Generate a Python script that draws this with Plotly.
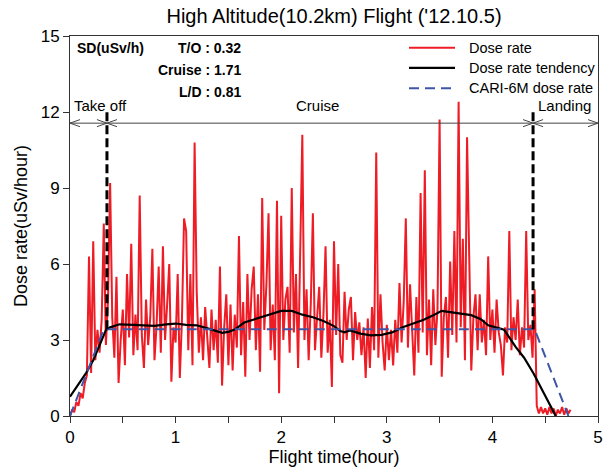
import plotly.graph_objects as go

# ---------------- data ----------------
dt = 0.02  # hours between dose-rate samples
dose_rate = [
    0.0, 0.25, 0.15, 0.55, 0.4, 0.9, 0.7, 1.3, 1.6, 6.3,
    1.7, 6.9, 2.2, 3.4, 2.5, 3.8, 7.6, 2.8, 4.6, 9.2,
    3.9, 2.3, 5.5, 1.3, 3.0, 4.2, 2.0, 5.6, 3.1, 6.8,
    2.4, 4.0, 2.6, 8.7, 3.2, 1.9, 4.6, 2.8, 3.9, 6.6,
    2.2, 3.6, 5.9, 2.5, 6.7, 3.0, 4.4, 6.0, 1.35, 3.5,
    2.9, 5.6, 1.5, 3.8, 7.8, 7.3, 2.6, 5.6, 2.0, 10.8,
    4.9, 2.5, 3.9, 2.2, 4.3, 3.0, 1.9, 4.2, 2.6, 3.8,
    2.1, 5.9, 1.2, 3.5, 4.8, 2.0, 4.4, 1.8, 4.0, 2.7,
    7.1, 2.4, 4.5, 1.55, 5.6, 3.0, 5.0, 5.9, 2.6, 4.8,
    1.75, 8.6, 3.4, 5.2, 8.0, 2.6, 4.4, 2.2, 8.5, 0.9,
    7.9, 3.0, 4.6, 5.1, 2.5, 9.0, 3.3, 5.6, 1.9, 6.5,
    11.1, 3.0, 5.0, 2.2, 4.4, 8.0, 2.6, 3.9, 5.1, 2.3,
    4.0, 6.7, 2.5, 3.8, 1.15, 6.9, 3.2, 6.0, 2.4, 2.1,
    4.9, 3.0, 4.2, 4.7, 2.2, 4.1, 3.0, 3.7, 2.4, 3.5,
    1.5, 3.85, 1.9, 4.3, 2.6, 10.4, 2.3, 4.8, 2.9, 1.8,
    3.6, 2.2, 3.4, 2.0, 3.8, 2.5, 5.25, 2.9, 4.5, 7.8,
    2.7, 5.2, 3.1, 1.6, 4.7, 2.5, 8.8, 3.3, 9.7, 2.4,
    4.6, 2.0, 5.0, 2.8, 4.2, 11.7, 1.55, 3.9, 4.7, 2.3,
    6.1, 3.2, 7.3, 2.9, 12.4, 3.5, 7.0, 2.2, 11.0, 6.8,
    1.8, 3.9, 4.8, 2.6, 4.8, 2.9, 3.8, 2.4, 6.3, 3.0,
    4.2, 2.5, 4.6, 3.3, 2.8, 1.6, 3.5, 2.9, 7.3, 2.6,
    3.9, 3.0, 4.6, 2.4, 3.5, 2.7, 7.3, 3.0, 3.6, 2.3,
    5.0, 0.4, 0.1, 0.35, 0.1, 0.3, 0.05, 0.35, 0.1, 0.3,
    0.0, 0.25, 0.1, 0.35, 0.05, 0.3, 0.1, 0.25,
]
time_h = [round(i * dt, 2) for i in range(len(dose_rate))]

tend_t = [0.00, 0.05, 0.10, 0.15, 0.22, 0.28, 0.34, 0.38, 0.47, 0.60, 0.70, 0.80,
          0.91, 1.00, 1.10, 1.20, 1.31, 1.44, 1.50, 1.56, 1.65, 1.77, 1.90, 2.00,
          2.10, 2.20, 2.30, 2.40, 2.50, 2.56, 2.60, 2.65, 2.75, 2.85, 2.95, 3.05,
          3.15, 3.25, 3.35, 3.45, 3.52, 3.60, 3.70, 3.80, 3.89, 3.96, 4.05, 4.11,
          4.22, 4.30, 4.39, 4.50, 4.60]
tend_v = [0.76, 1.05, 1.35, 1.68, 2.20, 2.80, 3.39, 3.50, 3.62, 3.60, 3.58, 3.56,
          3.62, 3.65, 3.60, 3.58, 3.45, 3.28, 3.32, 3.41, 3.69, 3.85, 4.00, 4.15,
          4.15, 4.00, 3.90, 3.75, 3.55, 3.35, 3.30, 3.38, 3.25, 3.18, 3.20, 3.30,
          3.50, 3.65, 3.80, 4.00, 4.15, 4.10, 4.05, 3.98, 3.82, 3.58, 3.48, 3.41,
          2.73, 2.30, 1.68, 0.80, 0.00]

cari_t = [0.0, 0.32, 4.40, 4.72]
cari_v = [0.0, 3.42, 3.42, 0.0]

phase_bounds = [0.35, 4.385]          # take-off / landing boundaries (hours)
phase_names = ["Take off", "Cruise", "Landing"]
sd_header = "SD(uSv/h)"
sd_labels = ["T/O : 0.32", "Cruise : 1.71", "L/D : 0.81"]
series_names = ["Dose rate", "Dose rate tendency", "CARI-6M dose rate"]

# ---------------- styling ----------------
FONT = "Liberation Sans, Arial, sans-serif"
RED = "#ee1c25"
BLUE = "#3f55a5"
AXC = "#333333"
W, H = 608, 467
ML, MR, MT, MB = 70, 10, 36, 51
PW, PH = W - ML - MR, H - MT - MB

X_MAX, Y_MAX = 5, 15
ARROW_Y = 11.56
CHEV_W, CHEV_H = 0.095, 0.14
BOUND_TOP, BOUND_BOTTOM = 12.05, 3.42

styles = [dict(color=RED, width=2), dict(color="black", width=2.2),
          dict(color=BLUE, width=2, dash="10px,6px")]

fig = go.Figure()
fig.add_trace(go.Scatter(x=time_h, y=dose_rate, mode="lines", name=series_names[0],
                         line=styles[0], showlegend=False))
fig.add_trace(go.Scatter(x=tend_t, y=tend_v, mode="lines", name=series_names[1],
                         line=styles[1], showlegend=False))
fig.add_trace(go.Scatter(x=cari_t, y=cari_v, mode="lines", name=series_names[2],
                         line=styles[2], showlegend=False))

shapes = []
shapes.append(dict(type="line", xref="x", yref="y", x0=0, x1=X_MAX, y0=ARROW_Y, y1=ARROW_Y,
                   line=dict(color="#444", width=1)))


def chevron(xtip, direction):
    xb = xtip - direction * CHEV_W
    return dict(type="path", xref="x", yref="y",
                path=f"M{xb},{ARROW_Y + CHEV_H} L{xtip},{ARROW_Y} L{xb},{ARROW_Y - CHEV_H}",
                line=dict(color="#444", width=1))


shapes.append(chevron(0, -1))
for b in phase_bounds:
    shapes.append(chevron(b, 1))
    shapes.append(chevron(b, -1))
shapes.append(chevron(X_MAX, 1))
for b in phase_bounds:
    shapes.append(dict(type="line", xref="x", yref="y", x0=b, x1=b, y0=BOUND_BOTTOM, y1=BOUND_TOP,
                       line=dict(color="black", width=3, dash="9px,4px")))

annotations = []
lab_y = 12.25
annotations.append(dict(x=0.02, y=lab_y, xref="x", yref="y", text=phase_names[0], showarrow=False,
                        xanchor="left", yanchor="middle", font=dict(size=15, color="black")))
annotations.append(dict(x=(phase_bounds[0] + phase_bounds[1]) / 2 - 0.02, y=lab_y, xref="x", yref="y",
                        text=phase_names[1], showarrow=False, xanchor="center", yanchor="middle",
                        font=dict(size=15, color="black")))
annotations.append(dict(x=4.95, y=lab_y, xref="x", yref="y", text=phase_names[2], showarrow=False,
                        xanchor="right", yanchor="middle", font=dict(size=15, color="black")))

annotations.append(dict(x=0.045, y=14.53, xref="x", yref="y", text=f"<b>{sd_header}</b>", showarrow=False,
                        xanchor="left", yanchor="middle", font=dict(size=14, color="black")))
for k, s in enumerate(sd_labels):
    annotations.append(dict(x=1.64, y=14.53 - k * 0.865, xref="x", yref="y", text=f"<b>{s}</b>",
                            showarrow=False, xanchor="right", yanchor="middle",
                            font=dict(size=14, color="black")))

# legend drawn in paper coordinates
leg_rows_px = [47.7, 67.9, 88.3]
leg_x0_px, leg_x1_px, leg_text_px = 409, 455, 467
for name, st, ypx in zip(series_names, styles, leg_rows_px):
    yp = (H - MB - ypx) / PH
    shapes.append(dict(type="line", xref="paper", yref="paper",
                       x0=(leg_x0_px - ML) / PW, x1=(leg_x1_px - ML) / PW, y0=yp, y1=yp,
                       line=dict(color=st["color"], width=st["width"], dash=st.get("dash", "solid"))))
    annotations.append(dict(x=(leg_text_px - ML) / PW, y=yp, xref="paper", yref="paper", text=name,
                            showarrow=False, xanchor="left", yanchor="middle",
                            font=dict(size=14.5, color="black")))

fig.update_layout(
    width=W, height=H,
    margin=dict(l=ML, r=MR, t=MT, b=MB),
    paper_bgcolor="white", plot_bgcolor="white",
    font=dict(family=FONT, color="black"),
    title=dict(text="High Altitude(10.2km) Flight ('12.10.5)", x=0.5, xref="paper", xanchor="center",
               y=1 - 16 / H, yref="container", yanchor="middle",
               font=dict(size=20, color="black")),
    shapes=shapes,
    annotations=annotations,
    showlegend=False,
)
fig.update_xaxes(range=[0, X_MAX], tick0=0, dtick=1, ticks="outside", ticklen=6, tickcolor=AXC,
                 showline=True, linecolor=AXC, linewidth=1, mirror=True, showgrid=False, zeroline=False,
                 minor=dict(dtick=0.5, ticks="outside", ticklen=6, tickcolor=AXC, showgrid=False),
                 automargin=False,
                 tickfont=dict(size=17), title=dict(text="Flight time(hour)", font=dict(size=18), standoff=2))
fig.update_yaxes(range=[0, Y_MAX], tick0=0, dtick=3, ticks="outside", ticklen=6, tickcolor=AXC,
                 showline=True, linecolor=AXC, linewidth=1, mirror=True, showgrid=False, zeroline=False,
                 automargin=False,
                 tickfont=dict(size=17), title=dict(text="Dose rate(uSv/hour)", font=dict(size=18), standoff=8))

fig.write_html("out.html")
